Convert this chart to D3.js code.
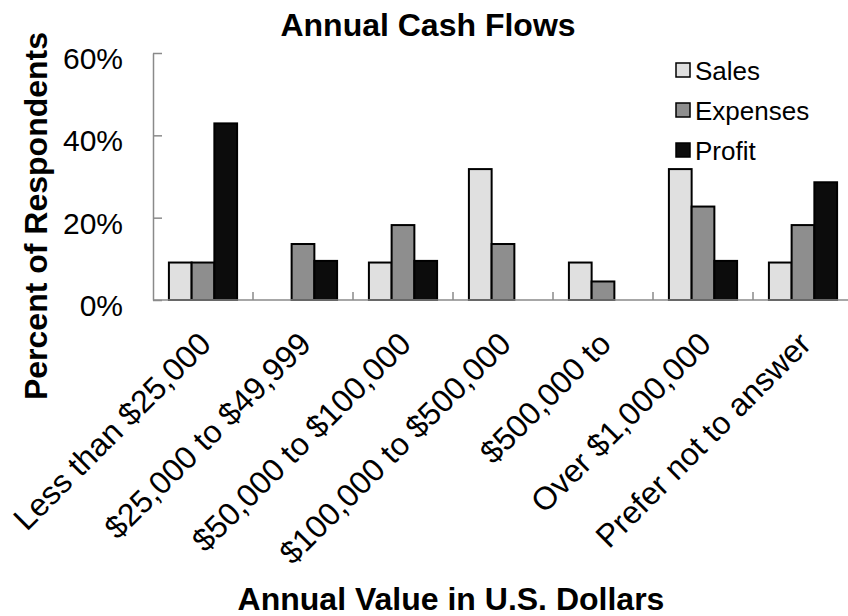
<!DOCTYPE html>
<html>
<head>
<meta charset="utf-8">
<script src="https://cdn.jsdelivr.net/npm/d3@7"></script>
<style>
  body { margin: 0; background: #fff; }
  svg { display: block; font-family: "Liberation Sans", Arial, sans-serif; }
</style>
</head>
<body>
<svg id="chart" width="848" height="616"></svg>
<script>
// data (percent of respondents)
var categories = ["Less than $25,000", "$25,000 to $49,999", "$50,000 to $100,000",
  "$100,000 to $500,000", "$500,000 to", "Over $1,000,000", "Prefer not to answer"];
var seriesNames = ["Sales", "Expenses", "Profit"];
var sales = [9.1, 0, 9.1, 31.8, 9.1, 31.8, 9.1];
var expenses = [9.1, 13.6, 18.2, 13.6, 4.5, 22.7, 18.2];
var profit = [42.9, 9.5, 9.5, 0, 0, 9.5, 28.6];
var yTicks = [0, 20, 40, 60];

var colors = { "Sales": "#e0e0e0", "Expenses": "#8e8e8e", "Profit": "#0c0c0c" };
var seriesValues = { "Sales": sales, "Expenses": expenses, "Profit": profit };

var svg = d3.select("#chart");
var plotLeft = 153, plotRight = 853, plotTop = 53, plotBottom = 300;

var x0 = d3.scaleBand().domain(categories).range([plotLeft, plotRight]).padding(0);
var x1 = d3.scaleBand().domain(seriesNames).range([0, x0.bandwidth()])
  .paddingInner(0).paddingOuter(0.7);
var y = d3.scaleLinear().domain([0, 60]).range([plotBottom, plotTop]);

// title
svg.append("text")
  .attr("x", 428).attr("y", 36)
  .attr("text-anchor", "middle")
  .style("font-size", "32px").style("font-weight", "bold")
  .text("Annual Cash Flows");

// y axis
var yAxis = svg.append("g")
  .attr("transform", "translate(" + plotLeft + ",0)")
  .call(d3.axisLeft(y).tickValues(yTicks).tickFormat(function(d) { return d + "%"; })
    .tickSizeInner(-9).tickSizeOuter(0).tickPadding(30));
yAxis.select(".domain").attr("stroke", "#8a8a8a").attr("stroke-width", 1.5);
yAxis.selectAll(".tick line").attr("stroke", "#8a8a8a").attr("stroke-width", 1.5);
yAxis.selectAll(".tick text")
  .attr("dy", "0.52em")
  .style("font-size", "30px").attr("fill", "#000");

// bars
var groups = svg.append("g").selectAll("g")
  .data(categories)
  .enter()
  .append("g")
  .attr("transform", function(d) { return "translate(" + x0(d) + ",0)"; });

groups.selectAll("rect")
  .data(function(d, i) {
    return seriesNames.map(function(s) { return { key: s, value: seriesValues[s][i] }; })
      .filter(function(e) { return e.value > 0; });
  })
  .enter()
  .append("rect")
  .attr("x", function(d) { return x1(d.key); })
  .attr("y", function(d) { return y(d.value); })
  .attr("width", x1.bandwidth())
  .attr("height", function(d) { return plotBottom - y(d.value); })
  .style("fill", function(d) { return colors[d.key]; })
  .attr("stroke", "#000")
  .attr("stroke-width", 2);

// x axis line + boundary ticks
svg.append("line")
  .attr("x1", plotLeft).attr("x2", 848)
  .attr("y1", plotBottom).attr("y2", plotBottom)
  .attr("stroke", "#8a8a8a").attr("stroke-width", 1.5);
svg.append("g").selectAll("line")
  .data(categories.slice(1))
  .enter()
  .append("line")
  .attr("x1", function(d) { return x0(d); })
  .attr("x2", function(d) { return x0(d); })
  .attr("y1", plotBottom).attr("y2", plotBottom - 8)
  .attr("stroke", "#8a8a8a").attr("stroke-width", 1.5);

// x labels, rotated
svg.append("g").selectAll("text")
  .data(categories)
  .enter()
  .append("text")
  .attr("transform", function(d) {
    return "translate(" + (x0(d) + x0.bandwidth() / 2 - 6) + "," + (plotBottom + 30) + ") rotate(-45)";
  })
  .attr("text-anchor", "end")
  .attr("dy", "0.7em")
  .style("font-size", "32px")
  .text(function(d) { return d; });

// axis titles
svg.append("text")
  .attr("transform", "translate(47,216) rotate(-90)")
  .attr("text-anchor", "middle")
  .style("font-size", "32px").style("font-weight", "bold")
  .text("Percent of Respondents");

svg.append("text")
  .attr("x", 451).attr("y", 610)
  .attr("text-anchor", "middle")
  .style("font-size", "32px").style("font-weight", "bold")
  .text("Annual Value in U.S. Dollars");

// legend
var legend = svg.append("g").selectAll("g")
  .data(seriesNames)
  .enter()
  .append("g")
  .attr("transform", function(d, i) { return "translate(676," + (70 + i * 40) + ")"; });
legend.append("rect")
  .attr("x", 0).attr("y", -7)
  .attr("width", 14).attr("height", 14)
  .style("fill", function(d) { return colors[d]; })
  .attr("stroke", "#000").attr("stroke-width", 1.5);
legend.append("text")
  .attr("x", 19).attr("dy", "0.38em")
  .style("font-size", "26px")
  .text(function(d) { return d; });
</script>
</body>
</html>
